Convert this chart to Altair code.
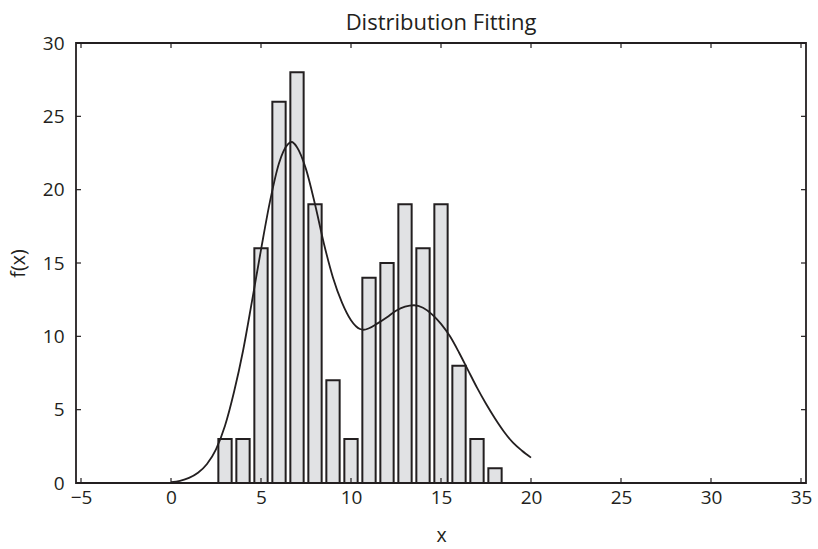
import altair as alt
import pandas as pd

# Histogram counts per unit bin (bin centres)
bin_centers = [3, 4, 5, 6, 7, 8, 9, 10, 11, 12, 13, 14, 15, 16, 17, 18]
bin_counts = [3, 3, 16, 26, 28, 19, 7, 3, 14, 15, 19, 16, 19, 8, 3, 1]

# Fitted density curve, scaled to counts
curve_x = [0, 0.5, 1, 1.5, 2, 2.5, 3, 3.5, 4, 4.5, 5, 5.5, 6, 6.5, 6.7, 7,
           7.5, 8, 8.5, 9, 9.5, 10, 10.5, 10.7, 11, 11.5, 12, 12.5, 13, 13.5,
           14, 14.5, 15, 15.5, 16, 16.5, 17, 17.5, 18, 18.5, 19, 19.5, 20]
curve_y = [0.05, 0.15, 0.35, 0.7, 1.3, 2.3, 3.9, 6.2, 9.0, 12.4, 15.9, 19.2,
           21.8, 23.1, 23.25, 22.9, 21.4, 19.0, 16.3, 14.0, 12.3, 11.1, 10.5,
           10.45, 10.55, 10.9, 11.3, 11.75, 12.02, 12.12, 11.95, 11.5, 10.85,
           10.0, 8.9, 7.7, 6.5, 5.4, 4.4, 3.5, 2.75, 2.2, 1.73]

x_ticks = [-5, 0, 5, 10, 15, 20, 25, 30, 35]
y_ticks = [0, 5, 10, 15, 20, 25, 30]

W, H = 730, 440
FONT = "Open Sans"
INK = "#231f20"

bars_df = pd.DataFrame({"x": bin_centers, "count": bin_counts})
curve_df = pd.DataFrame({"x": curve_x, "y": curve_y})
xt_df = pd.DataFrame({"t": x_ticks})
yt_df = pd.DataFrame({"t": y_ticks})

xscale = alt.Scale(domain=[-5, 35], nice=False, zero=False)
yscale = alt.Scale(domain=[0, 30], nice=False)

x_axis = alt.Axis(values=x_ticks, ticks=False, domain=False, grid=False,
                  labelPadding=5, titlePadding=19, labelFontSize=19,
                  titleFontSize=19.5, titleFontWeight="normal", labelColor=INK,
                  titleColor=INK, labelFont=FONT, titleFont=FONT)
y_axis = alt.Axis(values=y_ticks, ticks=False, domain=False, grid=False,
                  labelPadding=12, titlePadding=14, labelFontSize=19,
                  titleFontSize=19.5, titleFontWeight="normal", labelColor=INK,
                  titleColor=INK, labelFont=FONT, titleFont=FONT)

bars = alt.Chart(bars_df).mark_bar(
    width=13.3, fill="#e1e2e4", stroke=INK, strokeWidth=2
).encode(
    x=alt.X("x:Q", scale=xscale, axis=x_axis, title="x"),
    y=alt.Y("count:Q", scale=yscale, axis=y_axis, title="f(x)"),
)

curve = alt.Chart(curve_df).mark_line(
    color=INK, strokeWidth=1.8, interpolate="monotone"
).encode(
    x=alt.X("x:Q", scale=xscale),
    y=alt.Y("y:Q", scale=yscale),
)

# Inward tick marks on all four sides of the frame
tick_len = 5
bottom_ticks = alt.Chart(xt_df).mark_rule(color=INK, strokeWidth=1.2).encode(
    x=alt.X("t:Q", scale=xscale), y=alt.value(H), y2=alt.value(H - tick_len))
top_ticks = alt.Chart(xt_df).mark_rule(color=INK, strokeWidth=1.2).encode(
    x=alt.X("t:Q", scale=xscale), y=alt.value(0), y2=alt.value(tick_len))
left_ticks = alt.Chart(yt_df).mark_rule(color=INK, strokeWidth=1.2).encode(
    y=alt.Y("t:Q", scale=yscale), x=alt.value(0), x2=alt.value(tick_len))
right_ticks = alt.Chart(yt_df).mark_rule(color=INK, strokeWidth=1.2).encode(
    y=alt.Y("t:Q", scale=yscale), x=alt.value(W), x2=alt.value(W - tick_len))

chart = alt.layer(
    bars, curve, bottom_ticks, top_ticks, left_ticks, right_ticks
).properties(
    width=W, height=H,
    title=alt.TitleParams("Distribution Fitting", font=FONT, fontSize=22,
                          fontWeight="normal", color=INK, offset=-1),
    autosize=alt.AutoSizeParams(type="none"),
    padding={"left": 76, "top": 43, "right": 12, "bottom": 66},
).configure(
    background="white"
).configure_view(
    stroke=INK, strokeWidth=1.8
)

chart.save("out.html", embed_options={"renderer": "svg", "actions": False})
